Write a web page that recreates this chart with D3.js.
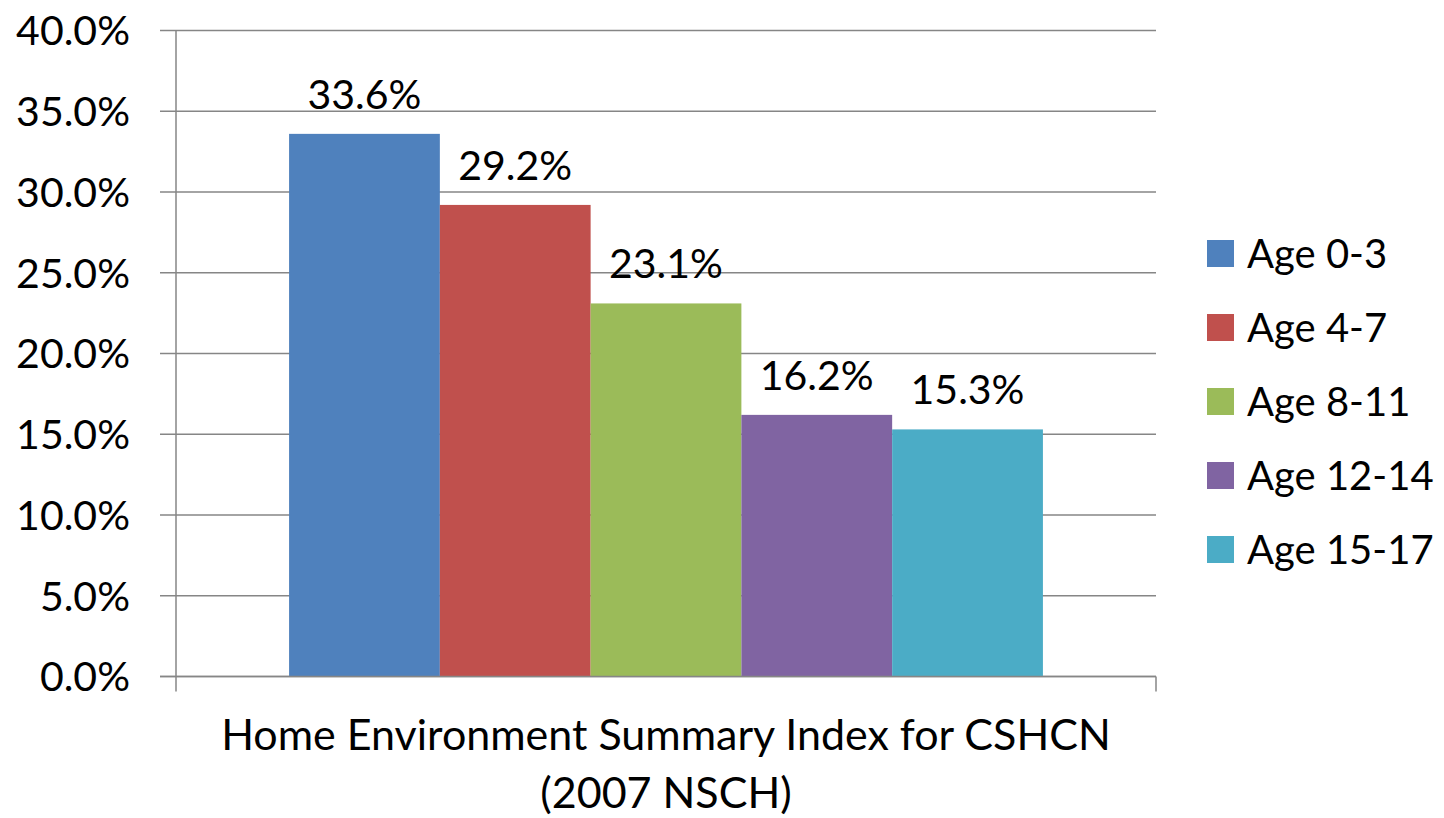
<!DOCTYPE html>
<html>
<head>
<meta charset="utf-8">
<script src="https://cdn.jsdelivr.net/npm/d3@7"></script>
<style>
  html, body { margin: 0; padding: 0; background: #fff; }
  svg { display: block; font-family: Lato, "Open Sans", sans-serif; }
</style>
</head>
<body>
<svg id="chart" width="1444" height="818"></svg>
<script>
  // data
  const seriesNames = ['Age 0-3', 'Age 4-7', 'Age 8-11', 'Age 12-14', 'Age 15-17'];
  const seriesValues = [0.336, 0.292, 0.231, 0.162, 0.153];
  const seriesColors = ['#4F81BD', '#C0504D', '#9BBB59', '#8064A2', '#4BACC6'];
  const yTicks = [0, 0.05, 0.10, 0.15, 0.20, 0.25, 0.30, 0.35, 0.40];
  const titleLines = ['Home Environment Summary Index for CSHCN', '(2007 NSCH)'];

  const svg = d3.select('#chart');
  const plotLeft = 176, plotRight = 1156, plotTop = 30.5, plotBottom = 676.5;
  const gridColor = '#868686';

  const x = d3.scaleBand()
    .domain(seriesNames)
    .range([plotLeft, plotRight])
    .paddingInner(0)
    .paddingOuter(0.75);

  const y = d3.scaleLinear()
    .domain([0, 0.4])
    .range([plotBottom, plotTop]);

  const fmt = d3.format('.1%');

  // gridlines
  svg.append('g')
    .selectAll('line')
    .data(yTicks)
    .enter()
    .append('line')
    .attr('x1', plotLeft - 16)
    .attr('x2', plotRight)
    .attr('y1', function (d) { return y(d) })
    .attr('y2', function (d) { return y(d) })
    .attr('stroke', gridColor)
    .attr('stroke-width', 1.5);

  // y axis line
  svg.append('line')
    .attr('x1', plotLeft).attr('x2', plotLeft)
    .attr('y1', plotTop).attr('y2', plotBottom + 15)
    .attr('stroke', gridColor)
    .attr('stroke-width', 1.5);
  // right tick of the category axis
  svg.append('line')
    .attr('x1', plotRight).attr('x2', plotRight)
    .attr('y1', plotBottom).attr('y2', plotBottom + 15)
    .attr('stroke', gridColor)
    .attr('stroke-width', 1.5);

  // y tick labels
  svg.append('g')
    .selectAll('text')
    .data(yTicks)
    .enter()
    .append('text')
    .attr('x', 130)
    .attr('y', function (d) { return y(d) })
    .attr('dy', '0.36em')
    .attr('text-anchor', 'end')
    .attr('font-size', 41)
    .attr('fill', '#000')
    .text(function (d) { return fmt(d) });

  // bars
  svg.append('g')
    .selectAll('rect')
    .data(seriesNames)
    .enter()
    .append('rect')
    .attr('x', function (d) { return x(d) })
    .attr('width', x.bandwidth())
    .attr('y', function (d, i) { return y(seriesValues[i]) })
    .attr('height', function (d, i) { return y(0) - y(seriesValues[i]) })
    .attr('fill', function (d, i) { return seriesColors[i] });

  // bottom axis line drawn over the bars
  svg.append('line')
    .attr('x1', plotLeft - 16).attr('x2', plotRight)
    .attr('y1', plotBottom).attr('y2', plotBottom)
    .attr('stroke', gridColor)
    .attr('stroke-width', 1.5);

  // data labels
  svg.append('g')
    .selectAll('text')
    .data(seriesNames)
    .enter()
    .append('text')
    .attr('x', function (d) { return x(d) + x.bandwidth() / 2 })
    .attr('y', function (d, i) { return y(seriesValues[i]) - 25 })
    .attr('text-anchor', 'middle')
    .attr('font-size', 41)
    .attr('fill', '#000')
    .text(function (d, i) { return fmt(seriesValues[i]) });

  // legend
  const legend = svg.append('g')
    .selectAll('g')
    .data(seriesNames)
    .enter()
    .append('g')
    .attr('transform', function (d, i) { return 'translate(1207,' + (240 + i * 74) + ')' });
  legend.append('rect')
    .attr('width', 27)
    .attr('height', 27)
    .attr('fill', function (d, i) { return seriesColors[i] });
  legend.append('text')
    .attr('x', 40)
    .attr('y', 28)
    .attr('font-size', 40)
    .attr('fill', '#000')
    .text(function (d) { return d });

  // category axis title
  svg.append('g')
    .selectAll('text')
    .data(titleLines)
    .enter()
    .append('text')
    .attr('x', (plotLeft + plotRight) / 2)
    .attr('y', function (d, i) { return 750 + i * 58 })
    .attr('text-anchor', 'middle')
    .attr('font-size', 43)
    .attr('fill', '#000')
    .text(function (d) { return d });
</script>
</body>
</html>
